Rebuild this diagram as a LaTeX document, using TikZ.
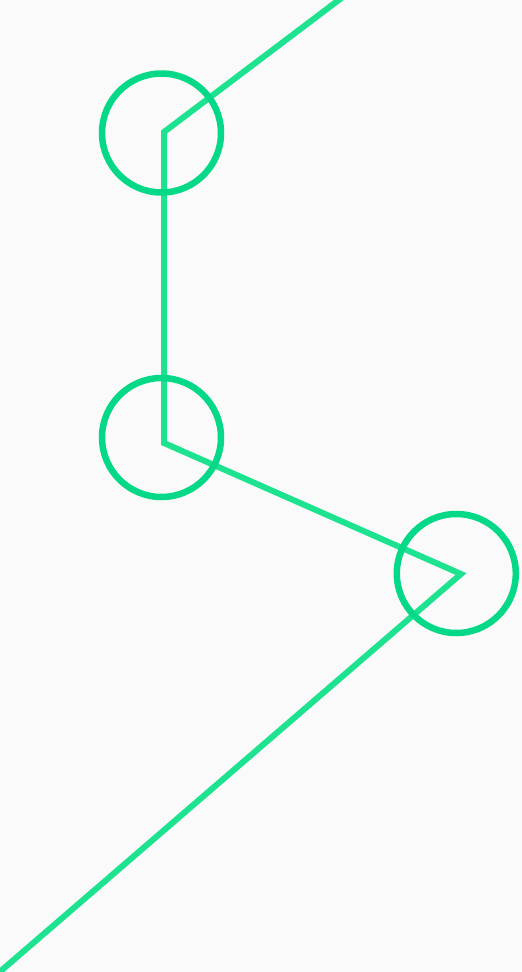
\documentclass[tikz,border=0pt]{standalone}
\usepackage{tikz}
\definecolor{bgc}{HTML}{FAFAFA}
\definecolor{ringc}{HTML}{05D886}
\definecolor{pathc}{HTML}{1DE390}
\tikzset{
  ring/.style={circle, draw=ringc, line width=6.5pt, minimum size=119pt, inner sep=0pt},
  trail/.style={draw=pathc, line width=6pt, line join=miter}
}
\begin{document}
\begin{tikzpicture}[x=1pt,y=-1pt]
\fill[bgc] (0,0) rectangle (522,972);
\useasboundingbox (0,0) rectangle (522,972);
\begin{scope}
\clip (0,0) rectangle (522,972);
\coordinate (p0) at (352,-10);
\coordinate (p1) at (164,132);
\coordinate (p2) at (164,443);
\coordinate (p3) at (461,574);
\coordinate (p4) at (-12,982);
\draw[trail] (p0) -- (p1) -- (p2) -- (p3) -- (p4);
\node[ring] (c1) at (161.5,133) {};
\node[ring] (c2) at (161.5,437.5) {};
\node[ring] (c3) at (456.3,573.5) {};
\end{scope}
\end{tikzpicture}
\end{document}
